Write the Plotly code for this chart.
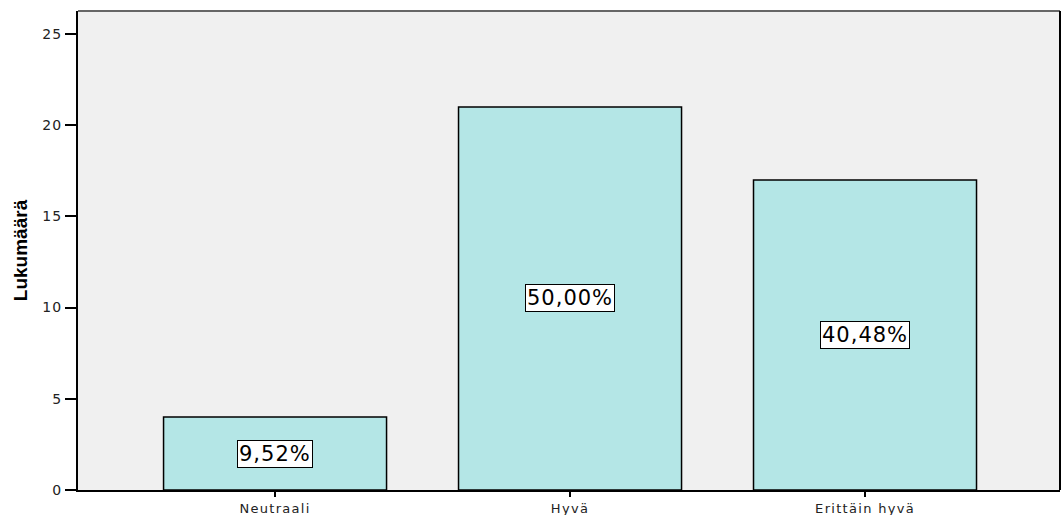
import plotly.graph_objects as go

# Response counts per rating category
categories = ["Neutraali", "Hyvä", "Erittäin hyvä"]
counts = [4, 21, 17]
y_ticks = [0, 5, 10, 15, 20, 25]

total = sum(counts)
pct_labels = [f"{c / total * 100:.2f}".replace(".", ",") + "%" for c in counts]


def spaced(s, px):
    return f'<span style="letter-spacing:{px}px">{s}</span>'


fig = go.Figure()
fig.add_trace(go.Bar(
    x=list(range(len(categories))),
    y=counts,
    width=0.756,
    marker=dict(color="rgb(180,230,230)", line=dict(color="black", width=1.5)),
    hoverinfo="skip",
))

# Percentage labels in white boxes at the middle of each bar
for i, (c, lab) in enumerate(zip(counts, pct_labels)):
    fig.add_annotation(
        x=i, y=c / 2, xref="x", yref="y",
        text=spaced(lab, 1),
        showarrow=False,
        font=dict(family="DejaVu Sans", size=21, color="black"),
        bgcolor="white", bordercolor="black", borderwidth=1, borderpad=1,
    )

# Top (grey) and right (black) frame edges
fig.add_shape(type="line", xref="paper", yref="paper", x0=0, x1=1, y0=1, y1=1,
              line=dict(color="#666666", width=2))
fig.add_shape(type="line", xref="paper", yref="paper", x0=1, x1=1, y0=0, y1=1,
              line=dict(color="black", width=2))

fig.update_layout(
    width=1062, height=515,
    margin=dict(l=78, r=2, t=11, b=25, autoexpand=False),
    paper_bgcolor="white",
    plot_bgcolor="rgb(240,240,240)",
    showlegend=False,
    xaxis=dict(
        range=[-0.668, 2.661],
        automargin=False,
        tickmode="array",
        tickvals=list(range(len(categories))),
        ticktext=[spaced(c, 1.3) for c in categories],
        ticks="outside", ticklen=5, tickwidth=2, tickcolor="black",
        showline=True, linecolor="black", linewidth=2,
        showgrid=False, zeroline=False,
        tickfont=dict(family="DejaVu Sans", size=13, color="#222222"),
    ),
    yaxis=dict(
        range=[0, 26.26],
        automargin=False,
        tickmode="array",
        tickvals=y_ticks,
        ticktext=[spaced(str(t), 1) for t in y_ticks],
        ticks="outside", ticklen=11, tickwidth=2, tickcolor="black",
        showline=True, linecolor="black", linewidth=2,
        showgrid=False, zeroline=False,
        tickfont=dict(family="DejaVu Sans", size=14, color="#222222"),
        title=dict(text="<b>Lukumäärä</b>", standoff=10,
                   font=dict(family="Liberation Sans", size=19, color="black")),
    ),
)

fig.write_html("out.html")
